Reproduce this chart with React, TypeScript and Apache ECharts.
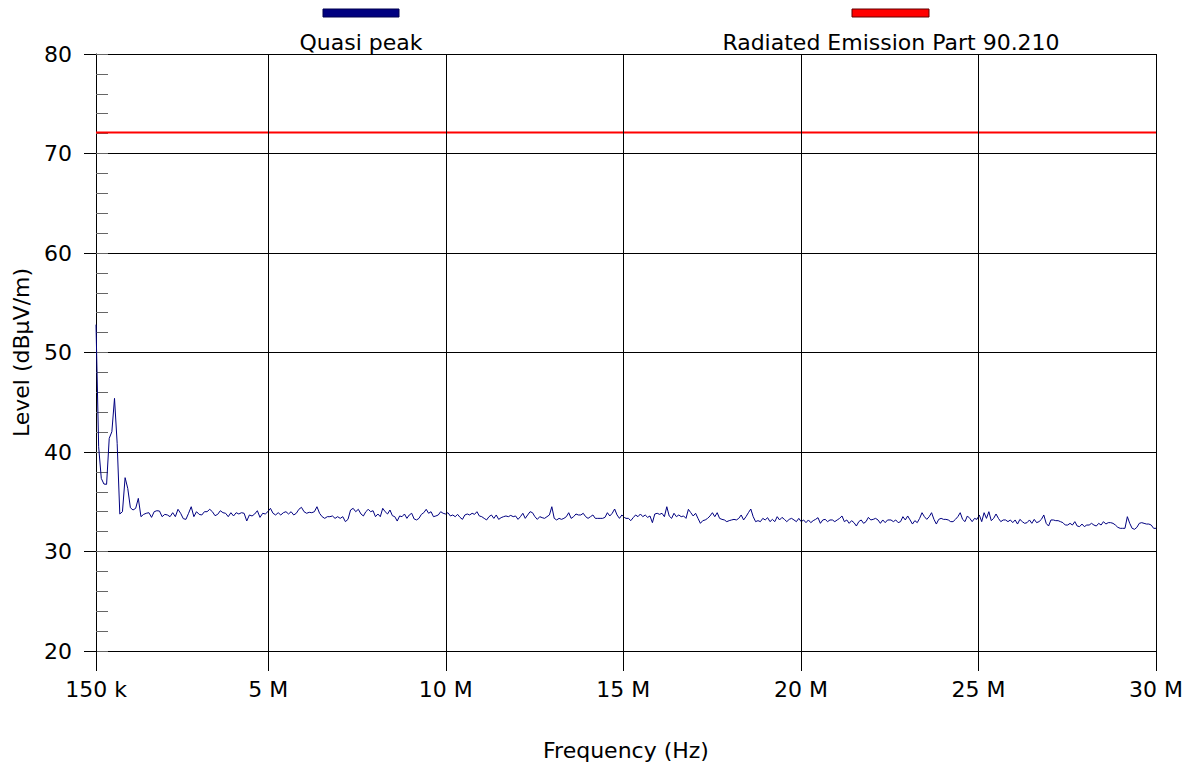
import React, { useEffect, useRef } from "react";
import * as echarts from "echarts";

// Frequency sweep segments (MHz) and the quasi-peak levels read in each (dBµV/m)
const segA = { start: 0.15, stop: 4.768 };
const levelsA = [52.8, 40.53, 37.35, 36.78, 36.75, 41.37, 42.04, 45.39, 40.87, 33.77, 34.0, 37.42, 36.35, 34.4, 34.17, 34.34, 35.34, 33.5, 33.73, 33.84, 33.9, 33.43, 34.0, 34.1, 34.07, 33.5, 33.73, 33.67, 33.5, 33.9, 33.5, 34.24, 33.84, 33.3, 33.23, 33.84, 34.5, 33.5, 34.0, 33.73, 33.67, 34.0, 34.0, 34.24, 34.0, 33.6, 33.73, 34.1, 33.9, 33.84, 33.5, 33.9, 33.57, 33.9, 33.77, 33.9, 33.84, 33.07, 33.67, 33.57, 33.77, 34.1, 33.43];
const segB = { start: 4.844, stop: 7.537 };
const levelsB = [33.84, 33.77, 34.0, 34.34, 33.84, 33.67, 33.9, 33.67, 33.9, 34.0, 33.77, 34.0, 33.67, 33.84, 34.24, 34.44, 34.0, 33.84, 33.94, 33.9, 34.0, 34.5, 33.84, 33.5, 33.33, 33.5, 33.5, 33.57, 33.33, 33.5, 33.33, 33.5, 33.0, 33.23, 34.17, 34.34, 34.0, 34.24];
const segC = { start: 7.612, stop: 15.027 };
const levelsC = [33.77, 33.57, 34.0, 34.24, 34.0, 34.1, 33.5, 33.77, 33.5, 34.34, 34.0, 33.77, 34.17, 33.6, 33.5, 33.06, 33.57, 33.5, 33.77, 33.33, 33.67, 33.84, 33.27, 33.17, 33.33, 33.73, 33.9, 34.24, 33.84, 34.0, 33.5, 33.57, 33.67, 34.0, 33.84, 33.77, 33.9, 33.57, 33.67, 33.5, 33.73, 33.43, 33.23, 33.67, 33.77, 33.67, 33.84, 33.73, 34.0, 33.57, 33.5, 33.33, 33.17, 33.5, 33.67, 33.33, 33.67, 33.23, 33.4, 33.5, 33.57, 33.5, 33.63, 33.5, 33.57, 33.23, 33.5, 33.84, 33.33, 33.67, 34.0, 33.9, 33.5, 33.23, 33.5, 33.4, 33.33, 33.5, 33.67, 34.5, 33.33, 33.17, 33.33, 33.23, 33.33, 33.5, 33.9, 33.33, 33.5, 33.77, 33.67, 33.67, 33.84, 33.5, 33.33, 33.5, 33.67, 33.33, 33.33, 33.33, 33.33, 33.43, 33.9, 33.57, 33.84, 34.27, 33.67, 33.33, 33.67, 33.43];
const segD = { start: 15.075, stop: 22.509 };
const levelsD = [33.33, 33.33, 33.1, 33.4, 33.67, 33.5, 33.77, 33.5, 33.67, 33.43, 33.57, 32.9, 33.77, 33.84, 33.73, 33.84, 33.5, 34.5, 33.57, 33.33, 33.84, 33.5, 33.67, 33.5, 33.57, 33.33, 34.24, 33.9, 33.57, 33.84, 33.33, 32.83, 33.1, 33.17, 33.33, 33.57, 33.9, 33.5, 33.9, 33.33, 33.23, 33.17, 33.0, 33.1, 33.17, 33.23, 33.17, 33.33, 33.67, 33.17, 33.5, 33.9, 34.27, 33.5, 33.0, 33.1, 33.0, 33.33, 33.17, 33.4, 33.0, 33.23, 33.0, 33.5, 33.17, 33.43, 33.23, 33.0, 33.23, 33.33, 33.17, 33.0, 33.33, 33.0, 33.17, 32.9, 33.17, 32.9, 33.1, 33.23, 33.4, 32.83, 33.17, 33.23, 33.0, 33.17, 33.17, 33.0, 33.17, 33.33, 33.57, 33.0, 33.17, 32.83, 33.1, 32.9, 32.56, 33.0, 33.17, 32.83, 33.0, 33.43, 33.17, 33.23, 33.33, 33.17, 32.83, 33.17, 32.9, 33.17, 33.17];
const segE = { start: 22.537, stop: 30.0 };
const levelsE = [33.17, 33.0, 33.17, 32.9, 33.0, 33.5, 33.17, 33.57, 33.17, 32.76, 33.1, 32.9, 33.33, 33.9, 33.5, 33.23, 33.5, 33.9, 33.23, 32.76, 33.23, 33.33, 33.23, 33.23, 33.17, 33.0, 33.0, 33.23, 33.5, 33.9, 33.23, 33.0, 33.57, 33.33, 33.0, 33.33, 33.23, 33.67, 33.0, 33.9, 33.33, 34.0, 33.1, 33.33, 33.77, 33.33, 33.0, 33.17, 33.17, 33.0, 33.17, 32.9, 33.17, 32.76, 33.23, 33.0, 32.83, 32.9, 33.17, 32.83, 33.23, 32.9, 33.0, 33.23, 33.67, 32.83, 32.56, 33.17, 33.17, 33.1, 33.1, 33.0, 32.9, 32.66, 32.66, 32.83, 32.66, 33.0, 32.56, 32.5, 32.76, 32.5, 32.66, 32.66, 32.83, 32.66, 32.56, 32.83, 32.66, 33.0, 32.76, 32.9, 32.9, 32.83, 32.66, 32.43, 32.33, 32.33, 32.33, 33.5, 32.83, 32.33, 32.23, 32.43, 32.83, 32.9, 32.83, 32.76, 32.76, 32.66, 32.33, 32.33];

// Limit line
const limitName = "Radiated Emission Part 90.210";
const limitLevel = 72.1;
const traceName = "Quasi peak";

// Axis
const freqMin = 150000;
const freqMax = 30000000;
const freqTicks = [150000, 5000000, 10000000, 15000000, 20000000, 25000000, 30000000];
const levelMin = 20;
const levelMax = 80;

function sweep(seg: { start: number; stop: number }, levels: number[]) {
  const n = levels.length;
  return levels.map((v, i) => [
    (seg.start + ((seg.stop - seg.start) * i) / (n - 1)) * 1e6,
    v,
  ]);
}

const FONT = "DejaVu Sans";

export default function App() {
  const ref = useRef<HTMLDivElement>(null);
  useEffect(() => {
    if (!ref.current) return;
    const chart = echarts.init(ref.current, undefined, { renderer: "svg" });
    const trace = [
      ...sweep(segA, levelsA),
      ...sweep(segB, levelsB),
      ...sweep(segC, levelsC),
      ...sweep(segD, levelsD),
      ...sweep(segE, levelsE),
    ];
    const fmt = (v: number) => (v < 1e6 ? v / 1000 + " k" : v / 1e6 + " M");
    chart.setOption({
      animation: false,
      backgroundColor: "#ffffff",
      textStyle: { fontFamily: FONT },
      grid: { left: 96, right: 40, top: 54, bottom: 117, containLabel: false },
      xAxis: {
        type: "value",
        min: freqMin,
        max: freqMax,
        name: "Frequency (Hz)",
        nameLocation: "middle",
        nameGap: 88,
        nameTextStyle: { fontFamily: FONT, fontSize: 22, color: "#000" },
        axisLine: { show: true, onZero: false, lineStyle: { color: "#000", width: 1 } },
        axisTick: { show: true, inside: false, length: 20, customValues: freqTicks, lineStyle: { color: "#000" } },
        axisLabel: {
          show: true,
          customValues: freqTicks,
          formatter: fmt,
          margin: 27,
          fontFamily: FONT,
          fontSize: 22,
          color: "#000",
        },
        splitLine: { show: false },
      },
      yAxis: [
        {
          type: "value",
          min: levelMin,
          max: levelMax,
          interval: 10,
          name: "Level (dBµV/m)",
          nameLocation: "middle",
          nameGap: 64,
          nameTextStyle: { fontFamily: FONT, fontSize: 22, color: "#000" },
          axisLine: { show: true, lineStyle: { color: "#000", width: 1 } },
          axisTick: { show: true, inside: false, length: 12, lineStyle: { color: "#000" } },
          axisLabel: { margin: 24, fontFamily: FONT, fontSize: 22, color: "#000" },
          splitLine: { show: true, lineStyle: { color: "#000", width: 1 } },
        },
        {
          type: "value",
          min: levelMin,
          max: levelMax,
          interval: 2,
          position: "left",
          axisLine: { show: false },
          axisTick: { show: true, inside: true, length: 12, lineStyle: { color: "#666" } },
          axisLabel: { show: false },
          splitLine: { show: false },
        },
      ],
      graphic: [
        { type: "rect", shape: { x: 323, y: 9, width: 76, height: 8 }, style: { fill: "#000080", stroke: "#000050", lineWidth: 1 } },
        { type: "text", x: 361, y: 42, style: { text: traceName, fill: "#000", font: `22px "${FONT}"`, align: "center", verticalAlign: "middle" } },
        { type: "rect", shape: { x: 852, y: 9, width: 77, height: 8 }, style: { fill: "#ff0000", stroke: "#600000", lineWidth: 1 } },
        { type: "text", x: 891, y: 42, style: { text: limitName, fill: "#000", font: `22px "${FONT}"`, align: "center", verticalAlign: "middle" } },
      ],
      series: [
        {
          name: "grid",
          type: "line",
          data: [],
          z: 1,
          silent: true,
          markLine: {
            silent: true,
            symbol: ["none", "none"],
            label: { show: false },
            lineStyle: { color: "#000", width: 1, type: "solid" },
            data: freqTicks.slice(1).map((f) => ({ xAxis: f })),
          },
        },
        {
          name: traceName,
          type: "line",
          data: trace,
          showSymbol: false,
          symbol: "none",
          lineStyle: { color: "#000080", width: 1 },
          itemStyle: { color: "#000080" },
          z: 3,
        },
        {
          name: limitName,
          type: "line",
          data: [
            [freqMin, limitLevel],
            [freqMax, limitLevel],
          ],
          showSymbol: false,
          symbol: "none",
          lineStyle: { color: "#ff0000", width: 2 },
          itemStyle: { color: "#ff0000" },
          z: 4,
        },
      ],
    });
    return () => chart.dispose();
  }, []);
  return (
    <div
      ref={ref}
      style={{ position: "fixed", left: 0, top: 0, width: 1196, height: 768, background: "#fff" }}
    />
  );
}
